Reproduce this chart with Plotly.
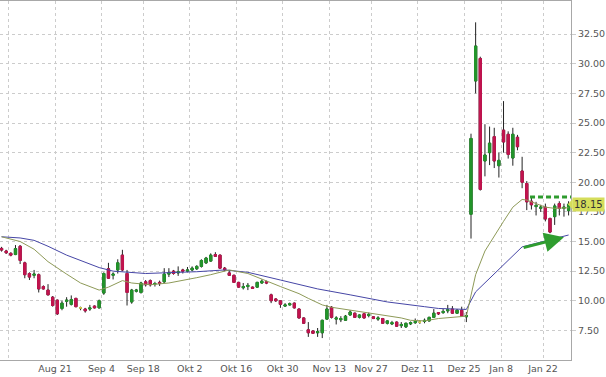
import numpy as np
import pandas as pd
import plotly.graph_objects as go

# ---------------- data ----------------
HOLIDAYS = ["2017-09-04", "2017-11-23", "2017-12-25", "2018-01-01", "2018-01-15"]
START_DATE, END_DATE = "2017-08-03", "2018-01-29"

OPEN = [
    14.42, 14.2, 14.0, 13.9, 14.6, 13.2, 12.3, 12.15, 12.2, 11.2, 10.9, 10.3,
    10.05, 9.35, 9.95, 9.7, 10.2, 9.4, 9.3, 9.3, 9.55, 9.4,
    10.65, 12.7, 12.15, 12.6, 13.85, 12.3, 9.9, 10.8, 10.7, 11.6,
    11.7, 11.4, 11.55, 11.6, 12.25, 12.5, 12.35, 12.6, 12.5, 12.6,
    12.7, 12.9, 13.2, 13.35, 13.9, 13.85, 12.75, 12.35, 12.15, 11.55,
    11.1, 11.2, 11.15, 11.15, 11.5, 11.6, 10.5, 10.15, 10.0, 9.55,
    9.65, 9.8, 9.3, 8.55, 7.55, 7.45, 7.3, 7.3, 8.45, 9.45,
    8.45, 8.4, 8.35, 8.8, 8.95, 8.6, 8.9, 8.75, 8.65, 8.45,
    8.5, 8.1, 8.05, 8.2, 7.9, 7.8, 8.05, 8.15, 8.2, 8.25,
    8.3, 8.6, 9.0, 9.0, 9.15, 9.3, 8.95, 9.2, 8.65, 17.3,
    28.55, 30.45, 21.8, 22.5, 23.85, 21.4, 24.4, 24.05, 22.05, 23.8,
    20.95, 19.9, 18.4, 17.95, 17.8, 17.9, 16.95, 17.1, 18.2, 17.8,
    17.6,
]
HIGH = [
    14.55, 14.3, 14.1, 14.7, 14.7, 13.3, 12.4, 12.6, 12.3, 11.3, 11.4, 10.4,
    10.1, 10.0, 10.3, 10.45, 10.25, 9.5, 9.4, 9.65, 9.6, 10.1,
    12.4, 13.2, 12.4, 13.5, 14.3, 12.6, 11.0, 11.0, 11.6, 11.75,
    11.8, 11.6, 11.7, 12.75, 12.75, 12.6, 12.9, 12.7, 12.85, 12.9,
    13.0, 13.5, 13.7, 14.0, 14.1, 13.9, 12.85, 12.5, 12.2, 11.6,
    11.5, 11.5, 11.2, 11.6, 11.8, 11.7, 10.6, 10.2, 10.05, 9.8,
    9.85, 9.85, 9.35, 8.6, 8.2, 7.5, 7.7, 8.4, 9.65, 9.55,
    8.7, 8.7, 8.8, 9.2, 9.0, 8.85, 8.95, 9.0, 8.7, 8.7,
    8.55, 8.35, 8.3, 8.25, 8.2, 8.15, 8.25, 8.5, 8.35, 8.5,
    8.65, 9.3, 9.05, 9.3, 9.65, 9.55, 9.3, 9.5, 9.05, 24.1,
    33.5, 30.6, 24.9, 24.7, 24.6, 22.5, 26.85, 24.3, 24.6, 24.0,
    22.15, 20.1, 18.8, 18.35, 18.1, 18.2, 17.0, 18.2, 18.4, 18.2,
    18.4,
]
LOW = [
    14.15, 13.95, 13.75, 13.85, 13.1, 11.9, 11.75, 11.9, 10.7, 10.95, 10.45, 9.5,
    8.8, 9.2, 9.5, 9.6, 9.45, 9.2, 9.0, 9.15, 9.35, 9.35,
    10.5, 11.85, 11.8, 12.3, 12.5, 9.6, 9.75, 10.7, 10.6, 11.2,
    11.2, 11.2, 11.25, 11.5, 12.0, 12.2, 12.1, 12.3, 12.4, 12.5,
    12.6, 12.8, 13.1, 13.3, 13.7, 12.7, 12.5, 12.1, 11.5, 11.1,
    10.95, 10.9, 11.0, 11.1, 11.45, 11.4, 9.8, 9.9, 9.4, 9.5,
    9.6, 9.35, 8.5, 8.05, 6.95, 7.2, 6.95, 6.85, 8.4, 8.5,
    8.0, 8.2, 8.3, 8.75, 8.55, 8.5, 8.5, 8.6, 8.45, 8.3,
    8.05, 8.0, 7.95, 7.8, 7.7, 7.7, 7.95, 8.05, 8.05, 8.1,
    8.25, 8.55, 8.8, 8.9, 8.95, 8.9, 8.9, 8.65, 8.2, 15.25,
    27.5, 19.3, 20.5, 21.45, 21.2, 20.4, 22.5, 22.0, 21.4, 22.7,
    19.5, 17.65, 17.7, 17.2, 17.5, 16.7, 15.7, 16.4, 17.2, 17.1,
    17.2,
]
CLOSE = [
    14.28, 14.05, 13.85, 14.4, 13.4, 12.2, 12.0, 12.25, 11.0, 11.0, 10.5, 9.6,
    8.9, 9.8, 10.05, 10.1, 9.5, 9.4, 9.15, 9.4, 9.4, 10.0,
    12.3, 11.9, 12.25, 13.2, 12.6, 10.7, 10.9, 10.9, 11.5, 11.35,
    11.35, 11.45, 11.45, 12.25, 12.35, 12.3, 12.45, 12.5, 12.6, 12.75,
    12.9, 13.4, 13.6, 13.85, 13.75, 12.75, 12.6, 12.15, 11.55, 11.15,
    11.2, 11.3, 11.05, 11.55, 11.65, 11.5, 10.0, 10.0, 9.7, 9.65,
    9.75, 9.4, 8.55, 8.1, 7.3, 7.25, 7.4, 8.35, 9.3, 8.6,
    8.55, 8.5, 8.7, 9.05, 8.6, 8.8, 8.55, 8.85, 8.5, 8.55,
    8.1, 8.3, 8.15, 7.85, 8.0, 8.1, 8.15, 8.25, 8.2, 8.35,
    8.6, 8.95, 8.9, 9.1, 9.25, 8.95, 9.2, 8.7, 8.75, 23.7,
    31.5, 19.4, 22.3, 23.3, 21.8, 21.85, 23.4, 22.35, 24.05, 23.0,
    20.0, 18.35, 18.1, 18.05, 17.9, 16.9, 15.8, 18.0, 17.8, 17.9,
    18.15,
]

# slow moving average (blue) sampled points
MA_SLOW_DATES = ["2017-08-03", "2017-08-09", "2017-08-14", "2017-08-17", "2017-08-23",
                 "2017-08-28", "2017-09-01", "2017-09-07", "2017-09-18", "2017-09-27",
                 "2017-10-03", "2017-10-11", "2017-10-18", "2017-10-27", "2017-11-08",
                 "2017-11-17", "2017-11-30", "2017-12-12", "2017-12-15", "2017-12-26",
                 "2017-12-28", "2018-01-12", "2018-01-29"]
MA_SLOW = [15.4, 15.3, 15.1, 14.6, 13.85,
           13.4, 12.8, 12.5, 12.3, 12.4,
           12.45, 12.6, 12.4, 11.75, 11.0,
           10.5, 9.9, 9.5, 9.35, 9.27,
           10.75, 14.55, 15.55]

# fast moving average (olive) sampled points
MA_FAST_DATES = ["2017-08-03", "2017-08-09", "2017-08-14", "2017-08-17", "2017-08-23",
                 "2017-08-28", "2017-09-01", "2017-09-06", "2017-09-11", "2017-09-13",
                 "2017-09-19", "2017-09-25", "2017-10-03", "2017-10-06", "2017-10-12",
                 "2017-10-18", "2017-10-27", "2017-10-31", "2017-11-02", "2017-11-06",
                 "2017-11-09", "2017-11-13", "2017-11-16", "2017-11-28", "2017-12-01",
                 "2017-12-05", "2017-12-07", "2017-12-12", "2017-12-15", "2017-12-26",
                 "2017-12-28", "2018-01-02", "2018-01-08", "2018-01-10", "2018-01-12",
                 "2018-01-16", "2018-01-18", "2018-01-22", "2018-01-24", "2018-01-29"]
MA_FAST = [15.4, 15.0, 14.35, 13.3, 12.25,
           11.5, 10.9, 11.15, 11.7, 11.5,
           11.35, 11.5, 11.95, 12.2, 12.6,
           12.3, 11.2, 10.9, 10.6, 10.2,
           9.65, 9.45, 9.27, 8.85, 8.7,
           8.55, 8.35, 8.3, 8.5, 8.7,
           12.2, 14.2, 16.7, 17.9, 18.55,
           18.5, 18.2, 17.9, 17.8, 17.85]

TICK_DATES = ["2017-08-07", "2017-08-21", "2017-09-04", "2017-09-18", "2017-10-02",
              "2017-10-16", "2017-10-30", "2017-11-13", "2017-11-27", "2017-12-11",
              "2017-12-25", "2018-01-08", "2018-01-22"]
TICK_LABELS = ["", "Aug 21", "Sep 4", "Sep 18", "Okt 2", "Okt 16", "Okt 30",
               "Nov 13", "Nov 27", "Dez 11", "Dez 25", "Jan 8", "Jan 22"]
Y_TICKS = [7.5, 10.0, 12.5, 15.0, 17.5, 20.0, 22.5, 25.0, 27.5, 30.0, 32.5]

RESIST_LEVEL = 18.75
RESIST_FROM = "2018-01-17"
ARROW_FROM = ("2018-01-12", 14.45)
ARROW_TO = ("2018-01-26", 15.35)

# ---------------- styling ----------------
UP = "#22952a"
DOWN = "#c2134e"
FLAT = "#e6df4a"
WICK = "#222222"
BLUE = "#4646a6"
OLIVE = "#8e9a58"
GRID = "#cccccc"
AXIS = "#a8a8a8"
TXT = "#555555"
FONT = "DejaVu Sans"

# ---------------- build ----------------
hol = set(pd.to_datetime(HOLIDAYS))
days = pd.DatetimeIndex([d for d in pd.bdate_range(START_DATE, END_DATE) if d not in hol])
n = min(len(days), len(OPEN))
days = days[:n]
xi = np.arange(n)
o = np.array(OPEN[:n]); h = np.array(HIGH[:n]); l = np.array(LOW[:n]); c = np.array(CLOSE[:n])


def pos(date):
    return int(days.searchsorted(pd.Timestamp(date)))


fig = go.Figure()

# wicks (full range, dark)
fig.add_trace(go.Candlestick(
    x=xi, open=o, high=h, low=l, close=c,
    increasing=dict(line=dict(color=WICK, width=1), fillcolor="rgba(0,0,0,0)"),
    decreasing=dict(line=dict(color=WICK, width=1), fillcolor="rgba(0,0,0,0)"),
    whiskerwidth=0, hoverinfo="skip", showlegend=False))

# coloured bodies
for mask, col in [(c > o, UP), (c < o, DOWN), (c == o, FLAT)]:
    if not mask.any():
        continue
    bo, bc = o[mask], c[mask]
    fig.add_trace(go.Candlestick(
        x=xi[mask], open=bo, close=bc,
        high=np.maximum(bo, bc), low=np.minimum(bo, bc),
        increasing=dict(line=dict(color=col, width=1), fillcolor=col),
        decreasing=dict(line=dict(color=col, width=1), fillcolor=col),
        whiskerwidth=0, hoverinfo="skip", showlegend=False))

fig.add_trace(go.Scatter(x=[pos(d) for d in MA_SLOW_DATES], y=MA_SLOW, mode="lines",
                         line=dict(color=BLUE, width=1), hoverinfo="skip", showlegend=False))
fig.add_trace(go.Scatter(x=[pos(d) for d in MA_FAST_DATES], y=MA_FAST, mode="lines",
                         line=dict(color=OLIVE, width=1), hoverinfo="skip", showlegend=False))

x_range = [pos(TICK_DATES[1]) - 0.5 - 55 / 4.648, pos(TICK_DATES[1]) - 0.5 + 516 / 4.648]
tick_pos = [pos(d) - 0.5 for d in TICK_DATES]

# resistance line
fig.add_shape(type="line", xref="x", yref="y", x0=pos(RESIST_FROM) - 0.3, x1=x_range[1],
              y0=RESIST_LEVEL, y1=RESIST_LEVEL,
              line=dict(color="#2e9b2e", width=3, dash="5px,3px"), layer="above")

# arrow
fig.add_annotation(x=pos(ARROW_TO[0]), y=ARROW_TO[1], ax=pos(ARROW_FROM[0]), ay=ARROW_FROM[1],
                   xref="x", yref="y", axref="x", ayref="y", text="", showarrow=True,
                   arrowhead=2, arrowsize=1.3, arrowwidth=3, arrowcolor="#2f9d2f")

# last price label
last = CLOSE[-1]
fig.add_annotation(xref="paper", x=1, xanchor="left", xshift=1, yref="y", y=last,
                   text=f"{last:.2f}", showarrow=False, bgcolor="#d5dd5b",
                   font=dict(family=FONT, size=10, color="#333333"), borderpad=1)
fig.add_shape(type="path", xref="paper", yref="y",
              path=f"M 0.9945,{last} L 1.003,{last + 0.45} L 1.003,{last - 0.45} Z",
              fillcolor="#d5dd5b", line=dict(width=0), layer="above")

fig.update_layout(
    width=606, height=377,
    margin=dict(l=0, r=35, t=1, b=17, autoexpand=False),
    paper_bgcolor="white", plot_bgcolor="white",
    showlegend=False, boxgap=0.3,
    font=dict(family=FONT, size=9.5, color=TXT),
    xaxis=dict(type="linear", range=x_range, tickmode="array", tickvals=tick_pos,
               ticktext=TICK_LABELS, showgrid=True, gridcolor=GRID, griddash="dot",
               gridwidth=1, zeroline=False, showline=True, linecolor=AXIS, linewidth=1,
               mirror=True, ticks="", rangeslider=dict(visible=False),
               tickfont=dict(family=FONT, size=9.5, color=TXT)),
    yaxis=dict(side="right", range=[5.0, 35.3], tickmode="array", tickvals=Y_TICKS,
               ticktext=[f"{v:.2f}" for v in Y_TICKS], showgrid=True, gridcolor=GRID,
               griddash="dot", gridwidth=1, zeroline=False, showline=True, linecolor=AXIS,
               linewidth=1, ticks="outside", ticklen=4, tickcolor=GRID,
               tickfont=dict(family=FONT, size=9.5, color=TXT)),
)

fig.write_html("out.html", config={"displayModeBar": False},
               post_script="document.body.style.margin='0';document.body.style.overflow='hidden';")
